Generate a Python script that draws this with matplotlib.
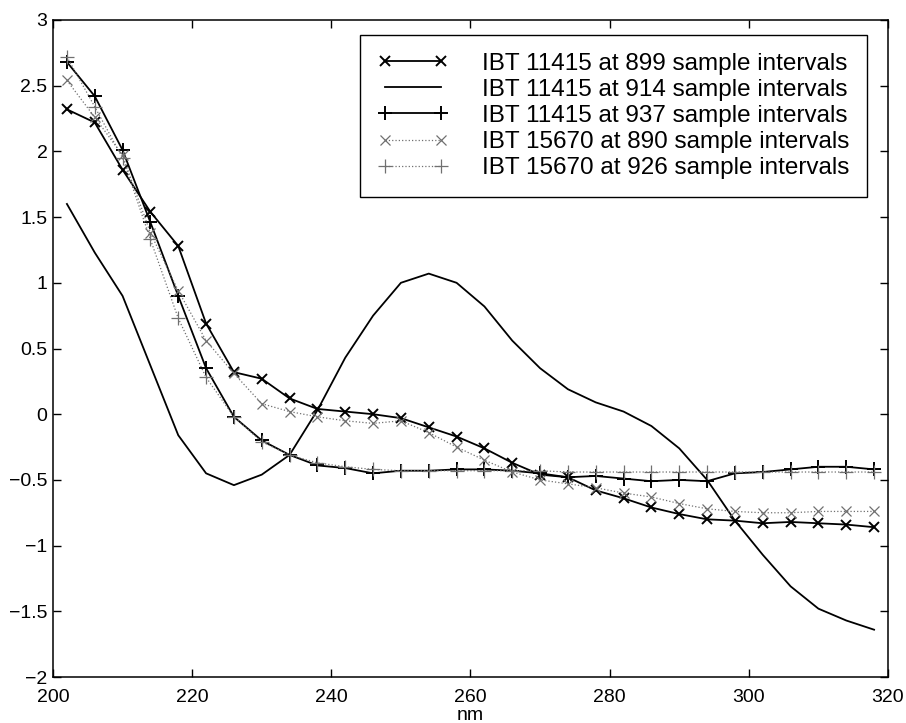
import matplotlib
matplotlib.use("Agg")
import matplotlib.pyplot as plt
import numpy as np

plt.rcParams['font.family'] = ['Liberation Sans', 'DejaVu Sans']

# wavelength samples (nm)
nm = np.arange(202, 319, 4)

ibt11415_899 = [2.32, 2.22, 1.86, 1.54, 1.28, 0.69, 0.32, 0.27, 0.12, 0.04,
                0.02, 0.00, -0.03, -0.10, -0.17, -0.26, -0.37, -0.46, -0.48, -0.58,
                -0.64, -0.71, -0.76, -0.80, -0.81, -0.83, -0.82, -0.83, -0.84, -0.86]
ibt11415_914 = [1.60, 1.23, 0.90, 0.37, -0.16, -0.45, -0.54, -0.46, -0.31, 0.03,
                0.43, 0.75, 1.00, 1.07, 1.00, 0.82, 0.56, 0.35, 0.19, 0.09,
                0.02, -0.09, -0.26, -0.50, -0.81, -1.07, -1.31, -1.48, -1.57, -1.64]
ibt11415_937 = [2.68, 2.42, 2.01, 1.46, 0.90, 0.35, -0.02, -0.20, -0.31, -0.39,
                -0.41, -0.45, -0.43, -0.43, -0.42, -0.42, -0.43, -0.45, -0.48, -0.47,
                -0.49, -0.51, -0.50, -0.51, -0.45, -0.44, -0.42, -0.40, -0.40, -0.42]
ibt15670_890 = [2.54, 2.26, 1.97, 1.38, 0.94, 0.56, 0.31, 0.08, 0.02, -0.02,
                -0.05, -0.07, -0.05, -0.14, -0.25, -0.35, -0.44, -0.50, -0.53, -0.56,
                -0.60, -0.63, -0.68, -0.72, -0.74, -0.75, -0.75, -0.74, -0.74, -0.74]
ibt15670_926 = [2.72, 2.34, 1.95, 1.33, 0.73, 0.28, -0.02, -0.21, -0.31, -0.37,
                -0.40, -0.42, -0.43, -0.43, -0.43, -0.43, -0.43, -0.43, -0.44, -0.44,
                -0.44, -0.44, -0.44, -0.44, -0.44, -0.44, -0.44, -0.44, -0.44, -0.44]

labels = ['IBT 11415 at 899 sample intervals',
          'IBT 11415 at 914 sample intervals',
          'IBT 11415 at 937 sample intervals',
          'IBT 15670 at 890 sample intervals',
          'IBT 15670 at 926 sample intervals']

fig = plt.figure(figsize=(9.06, 7.23), dpi=100)
ax = fig.add_axes([53 / 906, 1 - 677 / 723, 835 / 906, 657 / 723])

grey = '#707070'
ax.plot(nm, ibt11415_899, color='black', lw=1.3, marker='x', ms=7, mew=1.4, label=labels[0])
ax.plot(nm, ibt11415_914, color='black', lw=1.3, label=labels[1])
ax.plot(nm, ibt11415_937, color='black', lw=1.3, marker='+', ms=10, mew=1.4, label=labels[2])
ax.plot(nm, ibt15670_890, color=grey, lw=0.9, ls=':', marker='x', ms=7, mew=0.9, label=labels[3])
ax.plot(nm, ibt15670_926, color=grey, lw=0.9, ls=':', marker='+', ms=10, mew=0.9, label=labels[4])

ax.set_xlim(200, 320)
ax.set_ylim(-2, 3)
ax.set_xticks(np.arange(200, 321, 20))
ax.set_yticks(np.arange(-2, 3.01, 0.5))
ax.set_yticklabels(['\u22122', '\u22121.5', '\u22121', '\u22120.5', '0', '0.5',
                    '1', '1.5', '2', '2.5', '3'])
ax.tick_params(direction='in', length=6, width=1, top=True, right=True,
               labelsize=14)
ax.tick_params(axis='x', pad=9)
ax.tick_params(axis='y', pad=4)
for s in ax.spines.values():
    s.set_linewidth(1.1)
ax.set_xlabel('nm', fontsize=14, labelpad=0)

leg = ax.legend(loc='upper right', bbox_to_anchor=(0.975, 0.977), borderaxespad=0,
                fontsize=17.5, fancybox=False, framealpha=1, edgecolor='black',
                handlelength=2.9, handletextpad=1.4, labelspacing=0.17,
                borderpad=0.72, numpoints=2)
leg.get_frame().set_linewidth(1.0)

fig.savefig('out.png', dpi=100)
